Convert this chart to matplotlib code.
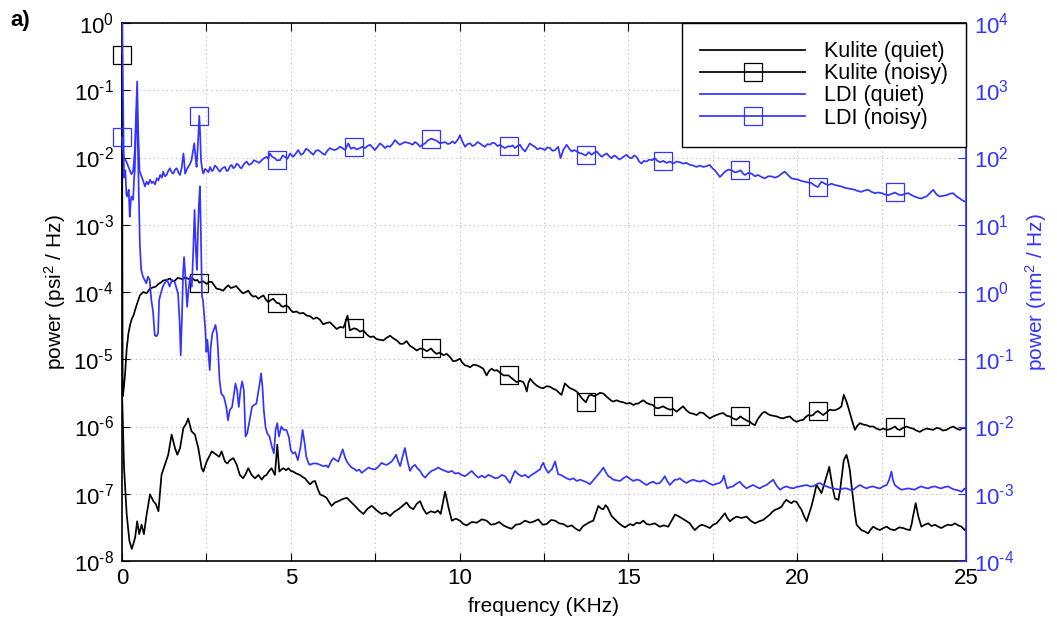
import numpy as np
import matplotlib
matplotlib.use("Agg")
import matplotlib.pyplot as plt
from matplotlib.ticker import MultipleLocator, FuncFormatter, FixedLocator, NullLocator

plt.rcParams["font.family"] = ["Liberation Sans", "DejaVu Sans"]
plt.rcParams["mathtext.fontset"] = "custom"
plt.rcParams["mathtext.rm"] = "Liberation Sans"
plt.rcParams["mathtext.it"] = "Liberation Sans:italic"
plt.rcParams["mathtext.default"] = "regular"
plt.rcParams["axes.unicode_minus"] = False

# (frequency in KHz, log10 power in psi^2/Hz)
kulite_quiet = [
    (0.00, -5.45), (0.06, -6.60), (0.14, -7.31), (0.22, -7.70), (0.29, -7.82), (0.34, -7.74), (0.39, -7.65),
    (0.45, -7.41), (0.51, -7.60), (0.58, -7.46), (0.65, -7.60), (0.73, -7.31), (0.83, -7.01), (0.93, -7.11),
    (1.00, -7.15), (1.08, -7.26), (1.17, -6.72), (1.27, -6.57), (1.37, -6.42), (1.47, -6.12), (1.57, -6.32),
    (1.64, -6.42), (1.72, -6.32), (1.82, -6.02), (1.90, -5.96), (1.96, -5.88), (2.06, -6.07), (2.16, -6.12),
    (2.26, -6.32), (2.36, -6.62), (2.41, -6.67), (2.51, -6.52), (2.66, -6.37), (2.80, -6.42), (2.88, -6.45),
    (2.95, -6.37), (3.05, -6.52), (3.12, -6.55), (3.20, -6.50), (3.30, -6.47), (3.40, -6.57), (3.49, -6.72),
    (3.59, -6.77), (3.67, -6.70), (3.74, -6.62), (3.84, -6.72), (3.94, -6.77), (4.04, -6.72), (4.14, -6.79),
    (4.21, -6.74), (4.28, -6.72), (4.36, -6.66), (4.43, -6.62), (4.53, -6.72), (4.60, -6.27), (4.66, -6.67),
    (4.72, -6.64), (4.78, -6.62), (4.86, -6.65), (4.93, -6.62), (5.00, -6.66), (5.07, -6.67), (5.17, -6.70),
    (5.27, -6.72), (5.35, -6.75), (5.42, -6.77), (5.50, -6.82), (5.57, -6.86), (5.65, -6.82), (5.72, -6.81),
    (5.80, -6.93), (5.87, -7.01), (5.96, -7.03), (6.06, -7.06), (6.13, -7.12), (6.21, -7.18), (6.31, -7.13),
    (6.41, -7.11), (6.53, -7.08), (6.66, -7.06), (6.78, -7.12), (6.90, -7.18), (7.03, -7.25), (7.15, -7.30),
    (7.28, -7.22), (7.40, -7.18), (7.55, -7.25), (7.69, -7.30), (7.82, -7.28), (7.94, -7.33), (8.06, -7.27),
    (8.19, -7.23), (8.31, -7.18), (8.43, -7.13), (8.53, -7.20), (8.63, -7.23), (8.73, -7.15), (8.83, -7.11),
    (8.92, -7.22), (9.02, -7.30), (9.15, -7.26), (9.27, -7.28), (9.36, -7.25), (9.44, -7.30), (9.52, -7.10),
    (9.57, -6.97), (9.62, -7.08), (9.67, -7.20), (9.77, -7.40), (9.89, -7.37), (10.01, -7.40), (10.11, -7.45),
    (10.21, -7.47), (10.36, -7.42), (10.51, -7.43), (10.66, -7.38), (10.80, -7.40), (10.93, -7.46),
    (11.05, -7.45), (11.17, -7.42), (11.30, -7.47), (11.42, -7.50), (11.54, -7.52), (11.67, -7.46),
    (11.79, -7.45), (11.94, -7.40), (12.09, -7.43), (12.21, -7.41), (12.33, -7.38), (12.46, -7.46),
    (12.58, -7.45), (12.71, -7.39), (12.83, -7.40), (12.95, -7.44), (13.07, -7.45), (13.20, -7.49),
    (13.32, -7.47), (13.44, -7.52), (13.55, -7.55), (13.66, -7.48), (13.76, -7.45), (13.86, -7.42),
    (13.96, -7.40), (14.04, -7.28), (14.11, -7.18), (14.19, -7.22), (14.26, -7.23), (14.32, -7.17),
    (14.38, -7.20), (14.50, -7.33), (14.60, -7.38), (14.70, -7.43), (14.80, -7.47), (14.90, -7.50),
    (15.05, -7.45), (15.14, -7.47), (15.24, -7.43), (15.34, -7.44), (15.44, -7.40), (15.54, -7.45),
    (15.64, -7.46), (15.78, -7.44), (15.93, -7.49), (16.05, -7.47), (16.18, -7.49), (16.28, -7.40),
    (16.38, -7.31), (16.47, -7.33), (16.57, -7.36), (16.70, -7.40), (16.82, -7.44), (16.90, -7.50),
    (16.97, -7.54), (17.07, -7.49), (17.17, -7.46), (17.29, -7.48), (17.41, -7.51), (17.51, -7.46),
    (17.61, -7.44), (17.73, -7.37), (17.86, -7.29), (17.93, -7.36), (18.01, -7.41), (18.10, -7.37),
    (18.20, -7.34), (18.35, -7.36), (18.50, -7.34), (18.62, -7.40), (18.75, -7.44), (18.87, -7.41),
    (18.99, -7.39), (19.09, -7.35), (19.19, -7.31), (19.26, -7.27), (19.34, -7.24), (19.44, -7.22),
    (19.54, -7.19), (19.61, -7.13), (19.68, -7.09), (19.76, -7.12), (19.83, -7.14), (19.90, -7.11),
    (19.98, -7.12), (20.05, -7.18), (20.13, -7.24), (20.20, -7.33), (20.28, -7.41), (20.35, -7.30),
    (20.42, -7.19), (20.50, -7.03), (20.57, -6.87), (20.65, -6.93), (20.72, -6.99), (20.80, -6.86),
    (20.87, -6.74), (20.95, -6.60), (21.02, -6.82), (21.07, -6.96), (21.12, -7.07), (21.22, -7.09),
    (21.27, -6.95), (21.31, -6.79), (21.38, -6.50), (21.46, -6.42), (21.51, -6.52), (21.56, -6.65),
    (21.61, -6.88), (21.66, -7.09), (21.71, -7.30), (21.76, -7.46), (21.83, -7.50), (21.90, -7.54),
    (22.00, -7.56), (22.10, -7.59), (22.18, -7.53), (22.25, -7.49), (22.35, -7.52), (22.45, -7.54),
    (22.55, -7.51), (22.65, -7.49), (22.77, -7.53), (22.89, -7.54), (23.02, -7.50), (23.14, -7.51),
    (23.24, -7.53), (23.34, -7.54), (23.39, -7.45), (23.43, -7.34), (23.51, -7.14), (23.59, -7.34),
    (23.68, -7.49), (23.78, -7.46), (23.88, -7.44), (23.98, -7.48), (24.08, -7.46), (24.18, -7.49),
    (24.27, -7.51), (24.37, -7.48), (24.47, -7.46), (24.57, -7.47), (24.67, -7.44), (24.77, -7.47),
    (24.87, -7.49), (24.96, -7.54), (25.00, -7.52),
]

kulite_noisy = [
    (0.00, -0.48), (0.02, -5.55), (0.05, -5.45), (0.09, -5.23), (0.14, -4.84), (0.19, -4.62), (0.24, -4.49),
    (0.29, -4.40), (0.34, -4.35), (0.43, -4.20), (0.53, -4.05), (0.63, -4.00), (0.73, -4.02), (0.83, -3.95),
    (0.93, -3.93), (1.00, -3.92), (1.08, -3.88), (1.15, -3.86), (1.22, -3.83), (1.32, -3.82), (1.42, -3.80),
    (1.50, -3.84), (1.57, -3.83), (1.65, -3.79), (1.72, -3.80), (1.80, -3.81), (1.87, -3.78), (1.94, -3.80),
    (2.01, -3.81), (2.08, -3.79), (2.16, -3.83), (2.23, -3.82), (2.29, -3.86), (2.40, -3.84), (2.51, -3.88),
    (2.58, -3.85), (2.66, -3.85), (2.73, -3.90), (2.80, -3.95), (2.90, -3.96), (3.00, -3.98), (3.08, -3.93),
    (3.15, -3.90), (3.22, -3.94), (3.30, -3.93), (3.38, -3.91), (3.45, -3.95), (3.52, -3.99), (3.59, -4.02),
    (3.67, -4.00), (3.74, -3.98), (3.82, -4.04), (3.89, -4.07), (3.96, -4.06), (4.04, -4.10), (4.12, -4.07),
    (4.19, -4.05), (4.26, -4.11), (4.33, -4.15), (4.41, -4.12), (4.48, -4.10), (4.58, -4.16), (4.66, -4.17),
    (4.72, -4.21), (4.78, -4.22), (4.85, -4.20), (4.93, -4.22), (5.00, -4.27), (5.07, -4.30), (5.17, -4.29),
    (5.27, -4.32), (5.37, -4.31), (5.47, -4.35), (5.57, -4.36), (5.67, -4.40), (5.77, -4.38), (5.86, -4.41),
    (5.96, -4.48), (6.06, -4.46), (6.16, -4.45), (6.26, -4.50), (6.36, -4.55), (6.46, -4.52), (6.56, -4.53),
    (6.62, -4.45), (6.68, -4.35), (6.75, -4.57), (6.87, -4.54), (6.95, -4.55), (7.05, -4.59), (7.15, -4.57),
    (7.25, -4.63), (7.35, -4.67), (7.45, -4.66), (7.54, -4.70), (7.64, -4.71), (7.74, -4.72), (7.84, -4.68),
    (7.94, -4.65), (8.04, -4.69), (8.14, -4.72), (8.24, -4.77), (8.33, -4.77), (8.43, -4.73), (8.53, -4.80),
    (8.63, -4.83), (8.73, -4.87), (8.83, -4.84), (8.93, -4.85), (9.03, -4.88), (9.16, -4.84), (9.22, -4.88),
    (9.32, -4.92), (9.42, -4.90), (9.52, -4.94), (9.62, -4.92), (9.72, -4.97), (9.81, -5.03), (9.91, -5.02),
    (10.01, -4.99), (10.08, -5.05), (10.16, -5.09), (10.24, -5.10), (10.31, -5.12), (10.41, -5.08),
    (10.51, -5.09), (10.60, -5.11), (10.70, -5.14), (10.80, -5.24), (10.88, -5.17), (10.95, -5.14),
    (11.03, -5.17), (11.10, -5.16), (11.20, -5.20), (11.30, -5.24), (11.45, -5.24), (11.49, -5.26),
    (11.59, -5.30), (11.69, -5.34), (11.79, -5.32), (11.89, -5.34), (11.95, -5.41), (11.99, -5.48),
    (12.04, -5.35), (12.09, -5.29), (12.19, -5.35), (12.28, -5.39), (12.38, -5.42), (12.48, -5.43),
    (12.58, -5.40), (12.68, -5.41), (12.78, -5.44), (12.87, -5.46), (12.95, -5.50), (13.02, -5.53),
    (13.07, -5.44), (13.12, -5.36), (13.20, -5.40), (13.27, -5.43), (13.37, -5.45), (13.47, -5.48),
    (13.55, -5.53), (13.62, -5.58), (13.74, -5.64), (13.83, -5.54), (13.91, -5.53), (13.99, -5.55),
    (14.06, -5.53), (14.16, -5.50), (14.26, -5.51), (14.34, -5.55), (14.41, -5.58), (14.48, -5.61),
    (14.55, -5.63), (14.65, -5.61), (14.75, -5.63), (14.85, -5.64), (14.95, -5.66), (15.05, -5.65),
    (15.15, -5.68), (15.22, -5.66), (15.29, -5.66), (15.37, -5.63), (15.44, -5.61), (15.54, -5.65),
    (15.64, -5.67), (15.73, -5.68), (15.80, -5.72), (15.88, -5.73), (16.03, -5.70), (16.13, -5.73),
    (16.23, -5.75), (16.33, -5.74), (16.43, -5.78), (16.52, -5.74), (16.62, -5.70), (16.72, -5.76),
    (16.82, -5.80), (16.92, -5.81), (17.02, -5.83), (17.12, -5.79), (17.22, -5.80), (17.31, -5.84),
    (17.41, -5.88), (17.51, -5.85), (17.61, -5.83), (17.71, -5.81), (17.81, -5.80), (17.91, -5.84),
    (18.01, -5.85), (18.10, -5.88), (18.20, -5.90), (18.32, -5.85), (18.40, -5.88), (18.50, -5.91),
    (18.60, -5.93), (18.67, -5.96), (18.75, -5.98), (18.82, -5.90), (18.89, -5.85), (18.97, -5.80),
    (19.04, -5.78), (19.12, -5.81), (19.19, -5.83), (19.29, -5.84), (19.39, -5.85), (19.49, -5.87),
    (19.58, -5.88), (19.68, -5.86), (19.78, -5.85), (19.88, -5.90), (19.98, -5.93), (20.08, -5.91),
    (20.18, -5.90), (20.25, -5.86), (20.33, -5.83), (20.40, -5.84), (20.47, -5.83), (20.54, -5.79),
    (20.61, -5.77), (20.69, -5.80), (20.77, -5.83), (20.87, -5.79), (20.97, -5.75), (21.07, -5.76),
    (21.16, -5.75), (21.24, -5.73), (21.31, -5.70), (21.38, -5.53), (21.46, -5.63), (21.51, -5.71),
    (21.56, -5.80), (21.63, -5.92), (21.71, -6.05), (21.78, -5.99), (21.86, -5.95), (21.95, -5.97),
    (22.05, -5.98), (22.15, -6.00), (22.25, -6.00), (22.35, -6.03), (22.45, -6.05), (22.55, -6.03),
    (22.65, -6.05), (22.75, -6.04), (22.90, -6.00), (22.97, -6.04), (23.04, -6.05), (23.14, -6.02),
    (23.24, -6.00), (23.34, -6.02), (23.43, -6.03), (23.53, -6.06), (23.63, -6.08), (23.73, -6.05),
    (23.83, -6.03), (23.93, -6.04), (24.03, -6.05), (24.13, -6.02), (24.22, -6.03), (24.32, -6.06),
    (24.42, -6.05), (24.52, -6.02), (24.62, -6.00), (24.72, -6.03), (24.82, -6.05), (24.90, -6.02),
    (25.00, -6.03),
]

# (frequency in KHz, log10 power in nm^2/Hz)
ldi_quiet = [
    (0.00, 4.50), (0.03, 3.00), (0.06, 1.70), (0.10, 1.81), (0.13, 1.45), (0.16, 1.42), (0.20, 1.52),
    (0.23, 1.12), (0.26, 1.35), (0.28, 1.42), (0.33, 1.37), (0.36, 1.70), (0.38, 1.81), (0.41, 2.40),
    (0.44, 2.75), (0.47, 2.20), (0.50, 1.40), (0.53, 0.70), (0.57, 0.33), (0.62, 0.23), (0.67, 0.18),
    (0.72, 0.13), (0.77, 0.23), (0.82, 0.18), (0.87, -0.12), (0.92, -0.29), (0.97, -0.64), (1.02, -0.66),
    (1.07, -0.61), (1.10, -0.12), (1.15, -0.02), (1.21, 0.08), (1.26, 0.13), (1.34, 0.18), (1.41, 0.08),
    (1.48, 0.18), (1.56, 0.15), (1.62, 0.05), (1.66, -0.02), (1.71, -0.47), (1.74, -0.94), (1.78, -0.32),
    (1.81, 0.28), (1.84, 0.52), (1.89, 0.13), (1.93, -0.22), (1.97, 0.03), (2.02, 0.23), (2.07, 0.08),
    (2.11, 0.60), (2.15, 1.22), (2.19, 0.60), (2.22, 0.33), (2.25, 0.90), (2.28, 1.32), (2.31, 1.57),
    (2.34, 0.80), (2.37, -0.07), (2.40, -0.12), (2.43, -0.32), (2.47, -0.57), (2.50, -0.89), (2.53, -0.71),
    (2.57, -0.96), (2.60, -1.16), (2.63, -0.81), (2.68, -0.61), (2.72, -0.56), (2.77, -0.49), (2.81, -0.61),
    (2.84, -0.81), (2.89, -1.31), (2.94, -1.51), (3.02, -1.56), (3.09, -1.71), (3.14, -1.91), (3.19, -1.76),
    (3.26, -1.71), (3.32, -1.51), (3.36, -1.36), (3.41, -1.46), (3.46, -1.71), (3.51, -1.46), (3.56, -1.33),
    (3.61, -1.46), (3.66, -2.15), (3.71, -2.10), (3.78, -1.91), (3.85, -1.71), (3.91, -1.68), (3.98, -1.66),
    (4.03, -1.51), (4.08, -1.36), (4.12, -1.21), (4.16, -1.40), (4.20, -1.75), (4.25, -2.00), (4.30, -2.10),
    (4.37, -2.15), (4.44, -2.30), (4.50, -2.40), (4.55, -2.05), (4.60, -1.95), (4.65, -2.15), (4.72, -2.00),
    (4.79, -2.05), (4.87, -2.05), (4.94, -2.15), (5.00, -2.35), (5.06, -2.40), (5.13, -2.38), (5.21, -2.50),
    (5.29, -2.30), (5.35, -2.05), (5.41, -2.25), (5.46, -2.45), (5.52, -2.54), (5.56, -2.57), (5.66, -2.55),
    (5.77, -2.55), (5.87, -2.57), (5.96, -2.59), (6.06, -2.58), (6.11, -2.61), (6.19, -2.52), (6.26, -2.47),
    (6.34, -2.50), (6.41, -2.52), (6.48, -2.42), (6.54, -2.34), (6.60, -2.45), (6.66, -2.52), (6.73, -2.57),
    (6.80, -2.61), (6.88, -2.63), (6.95, -2.66), (7.03, -2.64), (7.10, -2.69), (7.20, -2.65), (7.30, -2.61),
    (7.40, -2.63), (7.49, -2.64), (7.59, -2.60), (7.69, -2.54), (7.76, -2.56), (7.84, -2.57), (7.91, -2.55),
    (7.99, -2.52), (8.06, -2.47), (8.12, -2.42), (8.18, -2.52), (8.24, -2.59), (8.31, -2.45), (8.38, -2.32),
    (8.46, -2.52), (8.53, -2.66), (8.60, -2.60), (8.68, -2.57), (8.75, -2.62), (8.83, -2.66), (8.90, -2.72),
    (8.98, -2.76), (9.08, -2.70), (9.17, -2.66), (9.27, -2.64), (9.37, -2.61), (9.47, -2.64), (9.57, -2.66),
    (9.67, -2.68), (9.77, -2.66), (9.87, -2.70), (9.96, -2.69), (10.06, -2.72), (10.16, -2.74),
    (10.26, -2.70), (10.36, -2.66), (10.46, -2.72), (10.56, -2.76), (10.66, -2.73), (10.75, -2.76),
    (10.85, -2.72), (10.95, -2.74), (11.05, -2.77), (11.15, -2.76), (11.25, -2.72), (11.35, -2.74),
    (11.42, -2.79), (11.49, -2.84), (11.57, -2.74), (11.64, -2.66), (11.74, -2.71), (11.84, -2.74),
    (11.94, -2.72), (12.04, -2.76), (12.13, -2.72), (12.23, -2.69), (12.31, -2.66), (12.38, -2.64),
    (12.43, -2.58), (12.48, -2.54), (12.55, -2.63), (12.63, -2.69), (12.68, -2.66), (12.73, -2.64),
    (12.78, -2.58), (12.83, -2.52), (12.88, -2.63), (12.92, -2.71), (13.00, -2.72), (13.07, -2.74),
    (13.17, -2.77), (13.27, -2.79), (13.37, -2.77), (13.47, -2.81), (13.57, -2.79), (13.67, -2.81),
    (13.77, -2.83), (13.86, -2.86), (13.96, -2.80), (14.06, -2.74), (14.16, -2.68), (14.26, -2.61),
    (14.33, -2.68), (14.41, -2.74), (14.48, -2.76), (14.55, -2.79), (14.65, -2.80), (14.75, -2.81),
    (14.85, -2.77), (14.95, -2.74), (15.05, -2.78), (15.15, -2.81), (15.24, -2.79), (15.34, -2.80),
    (15.44, -2.84), (15.54, -2.87), (15.63, -2.84), (15.73, -2.82), (15.83, -2.85), (15.93, -2.84),
    (16.01, -2.79), (16.08, -2.74), (16.15, -2.81), (16.23, -2.87), (16.30, -2.83), (16.38, -2.79),
    (16.45, -2.79), (16.52, -2.77), (16.62, -2.81), (16.72, -2.84), (16.82, -2.81), (16.92, -2.79),
    (17.02, -2.81), (17.12, -2.82), (17.22, -2.80), (17.31, -2.82), (17.41, -2.85), (17.51, -2.87),
    (17.61, -2.85), (17.71, -2.84), (17.78, -2.80), (17.83, -2.73), (17.88, -2.84), (17.93, -2.92),
    (18.01, -2.90), (18.10, -2.89), (18.20, -2.85), (18.30, -2.82), (18.40, -2.88), (18.50, -2.92),
    (18.60, -2.89), (18.70, -2.87), (18.80, -2.90), (18.89, -2.92), (18.99, -2.89), (19.09, -2.87),
    (19.19, -2.83), (19.29, -2.79), (19.39, -2.88), (19.49, -2.94), (19.58, -2.91), (19.68, -2.89),
    (19.78, -2.91), (19.88, -2.92), (19.98, -2.90), (20.08, -2.89), (20.18, -2.88), (20.28, -2.87),
    (20.38, -2.89), (20.47, -2.89), (20.57, -2.86), (20.67, -2.84), (20.77, -2.87), (20.87, -2.89),
    (20.97, -2.91), (21.07, -2.92), (21.17, -2.93), (21.27, -2.94), (21.37, -2.92), (21.46, -2.92),
    (21.56, -2.94), (21.66, -2.94), (21.76, -2.90), (21.86, -2.87), (21.96, -2.90), (22.05, -2.92),
    (22.15, -2.90), (22.25, -2.89), (22.35, -2.91), (22.45, -2.92), (22.55, -2.89), (22.65, -2.87),
    (22.72, -2.80), (22.79, -2.67), (22.84, -2.80), (22.89, -2.87), (22.99, -2.91), (23.09, -2.94),
    (23.19, -2.93), (23.29, -2.92), (23.39, -2.93), (23.48, -2.94), (23.58, -2.91), (23.68, -2.89),
    (23.78, -2.91), (23.88, -2.92), (23.98, -2.90), (24.08, -2.89), (24.18, -2.91), (24.27, -2.92),
    (24.37, -2.90), (24.47, -2.89), (24.57, -2.92), (24.67, -2.94), (24.77, -2.95), (24.87, -2.97),
    (24.96, -2.92), (25.00, -2.94),
]

ldi_noisy = [
    (0.00, 2.30), (0.05, 2.00), (0.12, 1.95), (0.20, 1.85), (0.28, 1.75), (0.33, 1.80), (0.38, 2.10),
    (0.42, 2.70), (0.45, 3.13), (0.48, 2.40), (0.52, 1.80), (0.58, 1.72), (0.63, 1.65), (0.68, 1.57),
    (0.73, 1.64), (0.78, 1.60), (0.83, 1.67), (0.88, 1.62), (0.93, 1.64), (0.98, 1.60), (1.03, 1.69),
    (1.08, 1.66), (1.13, 1.74), (1.18, 1.70), (1.22, 1.79), (1.27, 1.72), (1.32, 1.74), (1.37, 1.80),
    (1.42, 1.84), (1.47, 1.78), (1.52, 1.76), (1.57, 1.82), (1.62, 1.84), (1.67, 1.78), (1.72, 1.74),
    (1.77, 1.85), (1.82, 2.06), (1.85, 1.90), (1.87, 1.76), (1.92, 1.82), (1.96, 1.86), (2.01, 1.90),
    (2.06, 1.96), (2.10, 2.08), (2.14, 2.21), (2.18, 2.00), (2.21, 1.86), (2.25, 2.20), (2.29, 2.62),
    (2.32, 2.30), (2.34, 1.96), (2.38, 1.82), (2.41, 1.76), (2.46, 1.83), (2.51, 1.81), (2.56, 1.78),
    (2.61, 1.86), (2.66, 1.80), (2.70, 1.81), (2.75, 1.88), (2.80, 1.86), (2.85, 1.82), (2.90, 1.79),
    (2.97, 1.84), (3.05, 1.86), (3.10, 1.80), (3.15, 1.81), (3.20, 1.87), (3.25, 1.89), (3.30, 1.84),
    (3.35, 1.86), (3.40, 1.91), (3.45, 1.89), (3.50, 1.85), (3.54, 1.84), (3.61, 1.90), (3.69, 1.94),
    (3.76, 1.89), (3.84, 1.91), (3.91, 1.96), (3.99, 1.94), (4.06, 1.92), (4.14, 1.96), (4.21, 1.99),
    (4.28, 2.01), (4.33, 1.98), (4.38, 2.06), (4.45, 2.01), (4.53, 1.99), (4.58, 1.96), (4.68, 1.96),
    (4.76, 2.03), (4.83, 2.01), (4.90, 1.98), (4.98, 2.06), (5.07, 2.01), (5.15, 2.06), (5.22, 2.11),
    (5.30, 2.04), (5.37, 2.06), (5.45, 2.13), (5.52, 2.11), (5.60, 2.07), (5.67, 2.04), (5.74, 2.10),
    (5.81, 2.11), (5.87, 2.09), (5.94, 2.06), (6.01, 2.04), (6.08, 2.10), (6.16, 2.14), (6.23, 2.12),
    (6.31, 2.11), (6.38, 2.13), (6.46, 2.16), (6.53, 2.14), (6.61, 2.11), (6.70, 2.21), (6.78, 2.13),
    (6.87, 2.15), (6.95, 2.12), (7.05, 2.14), (7.12, 2.16), (7.20, 2.14), (7.27, 2.17), (7.35, 2.19),
    (7.42, 2.15), (7.49, 2.11), (7.57, 2.16), (7.64, 2.21), (7.72, 2.18), (7.79, 2.14), (7.86, 2.17),
    (7.94, 2.16), (8.01, 2.20), (8.09, 2.26), (8.16, 2.22), (8.23, 2.19), (8.31, 2.21), (8.38, 2.23),
    (8.46, 2.22), (8.53, 2.21), (8.61, 2.19), (8.68, 2.23), (8.76, 2.20), (8.83, 2.16), (8.90, 2.19),
    (8.98, 2.21), (9.05, 2.25), (9.16, 2.28), (9.27, 2.26), (9.35, 2.24), (9.42, 2.21), (9.50, 2.22),
    (9.57, 2.23), (9.65, 2.20), (9.72, 2.21), (9.79, 2.24), (9.86, 2.21), (9.94, 2.26), (10.01, 2.33),
    (10.08, 2.24), (10.16, 2.16), (10.24, 2.20), (10.31, 2.21), (10.38, 2.17), (10.46, 2.19), (10.53, 2.23),
    (10.60, 2.21), (10.68, 2.18), (10.75, 2.16), (10.83, 2.20), (10.90, 2.19), (10.98, 2.22), (11.05, 2.21),
    (11.12, 2.17), (11.20, 2.19), (11.27, 2.16), (11.34, 2.14), (11.45, 2.17), (11.49, 2.16), (11.57, 2.18),
    (11.64, 2.14), (11.71, 2.17), (11.79, 2.19), (11.86, 2.13), (11.94, 2.09), (12.01, 2.15), (12.08, 2.21),
    (12.16, 2.18), (12.23, 2.16), (12.31, 2.12), (12.38, 2.14), (12.46, 2.13), (12.53, 2.11), (12.60, 2.15),
    (12.68, 2.14), (12.75, 2.10), (12.83, 2.11), (12.92, 2.16), (12.99, 1.99), (13.08, 2.12), (13.17, 2.19),
    (13.25, 2.13), (13.32, 2.09), (13.40, 2.11), (13.47, 2.09), (13.54, 2.07), (13.61, 2.06), (13.74, 2.03),
    (13.83, 2.08), (13.91, 2.04), (13.98, 2.07), (14.06, 2.09), (14.13, 2.05), (14.21, 2.01), (14.28, 2.04),
    (14.36, 2.06), (14.43, 2.02), (14.50, 1.99), (14.58, 2.03), (14.65, 2.01), (14.73, 1.97), (14.80, 1.99),
    (14.88, 2.02), (14.95, 2.04), (15.02, 2.00), (15.10, 1.99), (15.17, 2.03), (15.24, 2.01), (15.32, 1.94),
    (15.39, 1.91), (15.46, 1.95), (15.54, 1.94), (15.62, 1.97), (15.70, 1.96), (15.78, 1.99), (15.86, 1.95),
    (15.94, 1.93), (16.03, 1.95), (16.13, 1.92), (16.23, 1.94), (16.33, 1.91), (16.43, 1.94), (16.52, 1.93),
    (16.62, 1.91), (16.72, 1.92), (16.82, 1.89), (16.92, 1.88), (17.02, 1.86), (17.12, 1.88), (17.22, 1.86),
    (17.31, 1.87), (17.41, 1.89), (17.49, 1.84), (17.56, 1.81), (17.64, 1.76), (17.71, 1.71), (17.79, 1.75),
    (17.86, 1.79), (17.96, 1.82), (18.05, 1.81), (18.15, 1.78), (18.25, 1.79), (18.32, 1.81), (18.40, 1.76),
    (18.45, 1.74), (18.55, 1.77), (18.65, 1.76), (18.75, 1.72), (18.84, 1.74), (18.94, 1.71), (19.04, 1.69),
    (19.14, 1.72), (19.24, 1.72), (19.34, 1.70), (19.44, 1.72), (19.54, 1.76), (19.63, 1.79), (19.73, 1.74),
    (19.83, 1.69), (19.93, 1.68), (20.03, 1.67), (20.13, 1.65), (20.23, 1.64), (20.33, 1.63), (20.42, 1.62),
    (20.50, 1.59), (20.61, 1.56), (20.72, 1.64), (20.82, 1.61), (20.92, 1.59), (21.02, 1.61), (21.12, 1.59),
    (21.22, 1.58), (21.31, 1.57), (21.41, 1.55), (21.51, 1.54), (21.61, 1.53), (21.71, 1.52), (21.80, 1.50),
    (21.90, 1.49), (22.00, 1.51), (22.10, 1.52), (22.20, 1.49), (22.30, 1.47), (22.40, 1.48), (22.50, 1.47),
    (22.60, 1.45), (22.70, 1.44), (22.80, 1.46), (22.90, 1.48), (22.99, 1.45), (23.09, 1.44), (23.19, 1.46),
    (23.29, 1.47), (23.39, 1.44), (23.48, 1.42), (23.58, 1.40), (23.68, 1.39), (23.76, 1.41), (23.83, 1.42),
    (23.93, 1.47), (24.03, 1.52), (24.13, 1.45), (24.22, 1.42), (24.32, 1.43), (24.42, 1.44), (24.52, 1.46),
    (24.62, 1.47), (24.72, 1.42), (24.82, 1.39), (24.90, 1.36), (25.00, 1.34),
]

# frequencies (KHz) carrying a square marker on the noisy series
marker_freqs = [0.0, 2.29, 4.58, 6.87, 9.16, 11.45, 13.74, 16.03, 18.32, 20.61, 22.90]

left_decades = list(range(-8, 1))
right_decades = list(range(-4, 5))

BLUE = "#3434ff"
TICK_FS = 16
LABEL_FS = 15
LEGEND_FS = 15.5
LW = 1.25


def unpack(pairs):
    arr = np.array(pairs, dtype=float)
    return arr[:, 0], 10.0 ** arr[:, 1]


def marker_indices(freqs):
    return [int(np.argmin(np.abs(freqs - m))) for m in marker_freqs]


def decade_label(value, _pos):
    exp = int(round(np.log10(value)))
    # short hyphen in the exponent, as in the printed axis labels
    sign = "\u2010" if exp < 0 else ""
    return f"$10^{{{sign}{abs(exp)}}}$"


fig = plt.figure(figsize=(10.57, 6.30), dpi=100)
ax = fig.add_axes([0.1154, 0.1095, 0.7985, 0.854])
ax2 = ax.twinx()

f_kq, p_kq = unpack(kulite_quiet)
f_kn, p_kn = unpack(kulite_noisy)
f_lq, p_lq = unpack(ldi_quiet)
f_ln, p_ln = unpack(ldi_noisy)

h1, = ax.plot(f_kq, p_kq, color="black", lw=LW, label="Kulite (quiet)")
h2, = ax.plot(f_kn, p_kn, color="black", lw=LW, marker="s", markevery=marker_indices(f_kn),
              ms=13, mfc="none", mec="black", mew=0.9, clip_on=False, label="Kulite (noisy)")
h3, = ax2.plot(f_lq, p_lq, color=BLUE, lw=LW, label="LDI (quiet)")
h4, = ax2.plot(f_ln, p_ln, color=BLUE, lw=LW, marker="s", markevery=marker_indices(f_ln),
               ms=13, mfc="none", mec=BLUE, mew=0.9, clip_on=False, label="LDI (noisy)")

ax.set_xlim(0, 25)
ax.set_yscale("log")
ax.set_ylim(1e-8, 1)
ax2.set_yscale("log")
ax2.set_ylim(1e-4, 1e4)

ax.xaxis.set_major_locator(MultipleLocator(2.5))
ax.xaxis.set_major_formatter(FuncFormatter(
    lambda v, _: f"{v:g}" if abs(v / 5 - round(v / 5)) < 1e-6 else ""))
ax.yaxis.set_major_locator(FixedLocator([10.0 ** k for k in left_decades]))
ax.yaxis.set_major_formatter(FuncFormatter(decade_label))
ax.yaxis.set_minor_locator(NullLocator())
ax2.yaxis.set_major_locator(FixedLocator([10.0 ** k for k in right_decades]))
ax2.yaxis.set_major_formatter(FuncFormatter(decade_label))
ax2.yaxis.set_minor_locator(NullLocator())

ax.grid(True, which="major", linestyle=(0, (1, 3)), color="#b8b8b8", lw=0.8)
ax.set_axisbelow(True)

ax.tick_params(axis="x", which="major", direction="in", length=6, width=0.8, top=True,
               labelsize=TICK_FS, pad=5)
ax.tick_params(axis="y", which="major", direction="in", length=6, width=0.8, right=False,
               labelsize=TICK_FS, pad=6)
ax2.tick_params(axis="y", which="major", direction="in", length=6, width=0.8, colors=BLUE,
                labelsize=TICK_FS, pad=6)

for side in ["left", "bottom", "top"]:
    ax.spines[side].set_linewidth(1.2)
ax2.spines["right"].set_color(BLUE)
ax2.spines["right"].set_linewidth(1.2)
for side in ["left", "bottom", "top"]:
    ax2.spines[side].set_visible(False)

ax.set_xlabel("frequency (KHz)", fontsize=LABEL_FS, labelpad=6)
ax.set_ylabel("power (psi$^2$ / Hz)", fontsize=LABEL_FS, labelpad=4)
ax2.set_ylabel("power (nm$^2$ / Hz)", fontsize=LABEL_FS, color=BLUE, labelpad=6)

leg = ax2.legend(handles=[h1, h2, h3, h4], loc="upper right", fontsize=LEGEND_FS, frameon=True,
                 fancybox=False, edgecolor="black", framealpha=1.0, borderaxespad=0.0,
                 handlelength=4.9, handletextpad=0.85, labelspacing=0.05, borderpad=0.85,
                 markerscale=1.0)
leg.get_frame().set_linewidth(1.0)

fig.text(0.010, 0.968, "a)", fontsize=16, fontweight="bold", ha="left", va="center")

fig.savefig("out.png", dpi=100)
